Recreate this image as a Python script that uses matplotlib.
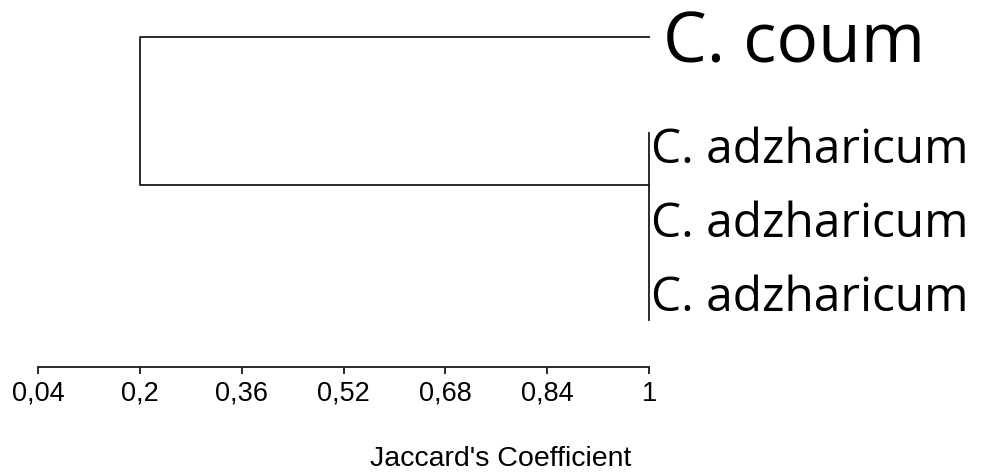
import matplotlib.pyplot as plt

# dendrogram data (Jaccard similarity)
labels = ["C. coum", "C. adzharicum", "C. adzharicum", "C. adzharicum"]
label_sizes = [50, 34.5, 34.5, 34.5]
leaf_rows = [0.5, 2, 3, 4]
leaf_level = 1.0      # adzharicum samples are identical
merge_level = 0.2     # C. coum joins the group here
ticks = [0.04, 0.2, 0.36, 0.52, 0.68, 0.84, 1]
tick_labels = ["0,04", "0,2", "0,36", "0,52", "0,68", "0,84", "1"]

W, H = 990, 472
fig = plt.figure(figsize=(W / 100, H / 100), dpi=100)
ax = fig.add_axes([38 / W, (H - 367) / H, (649 - 38) / W, 367 / H])
ax.set_xlim(0.04, 1)
ax.set_ylim(367 / 74, 0)

lc = "#1a1a1a"
lw = 1.3

# group of identical leaves
grp = leaf_rows[1:]
grp_row = (grp[0] + grp[1]) / 2
ax.plot([leaf_level, leaf_level], [min(grp) - 0.2, max(grp) + 0.32], color=lc, lw=lw, clip_on=False)
# branch to C. coum and to the group
ax.plot([leaf_level, merge_level, merge_level, leaf_level],
        [leaf_rows[0], leaf_rows[0], grp_row, grp_row], color=lc, lw=lw, clip_on=False)

# leaf labels
ax.annotate(labels[0], (leaf_level, leaf_rows[0]), xytext=(10, -18.5), textcoords="offset points",
            fontsize=label_sizes[0], family="Open Sans", va="baseline", ha="left",
            annotation_clip=False)
for r, lab, s in zip(grp, labels[1:], label_sizes[1:]):
    ax.annotate(lab, (leaf_level, r), xytext=(1.5, -11), textcoords="offset points",
                fontsize=s, family="Open Sans", va="baseline", ha="left",
                annotation_clip=False)

for sp in ["top", "left", "right"]:
    ax.spines[sp].set_visible(False)
ax.spines["bottom"].set_linewidth(lw)
ax.spines["bottom"].set_color(lc)
ax.set_yticks([])
ax.set_xticks(ticks)
ax.set_xticklabels(tick_labels, family="Liberation Sans", fontsize=19.5)
ax.tick_params(axis="x", length=5, width=lw, color=lc, pad=5)

fig.text(501 / W, 6 / H, "Jaccard's Coefficient", family="Liberation Sans",
         fontsize=20.5, ha="center", va="baseline")

fig.savefig("out.png", dpi=100)
